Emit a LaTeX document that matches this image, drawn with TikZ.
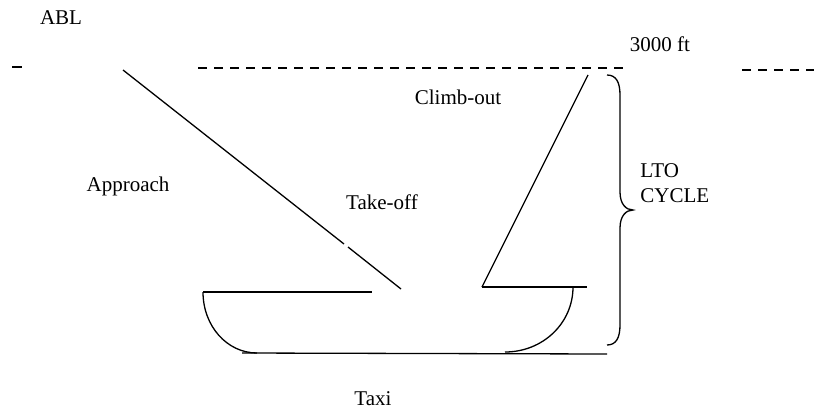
\documentclass[tikz,border=0pt]{standalone}
\usepackage{fontspec}
\setmainfont{Liberation Serif}
\tikzset{lb/.append style={inner sep=0pt, font=\fontsize{10.5}{12.5}\selectfont}}
\tikzset{ln/.append style={line width=0.65pt}}
\tikzset{dd/.append style={line width=1.2pt, dash pattern=on 4.5pt off 3.5pt}}

\begin{document}
\begin{tikzpicture}[x=0.5pt,y=-0.5pt]
                \useasboundingbox (0,0) rectangle (814,413);
                % labels
                \node[lb] (abl) at (61,18) {ABL};
                \node[lb] (ft) at (660,44) {3000 ft};
                \node[lb] (climb) at (458,97) {Climb-out};
                \node[lb] (appr) at (128,186) {Approach};
                \node[lb] (take) at (382,202) {Take-off};
                \node[lb,anchor=west,align=left] (lto) at (640,183) {LTO\\CYCLE};
                \node[lb] (taxi) at (373,399) {Taxi};
                % ABL top
                \coordinate (d1) at (12,67);
                \coordinate (d2) at (22,67);
                \coordinate (d3) at (198,68);
                \coordinate (d4) at (628,68);
                \coordinate (d5) at (742,70);
                \coordinate (d6) at (814,70);
                \draw[ln,line width=1.2pt] (d1) -- (d2);
                \draw[dd] (d3) -- (d4);
                \draw[dd] (d5) -- (d6);
                % approach
                \coordinate (a1) at (123,70);
                \coordinate (a2) at (344,244);
                \coordinate (a3) at (348,247);
                \coordinate (a4) at (401,289);
                \draw[ln] (a1) -- (a2);
                \draw[ln] (a3) -- (a4);
                % climb-out
                \coordinate (c1) at (482,287);
                \coordinate (c2) at (588,75);
                \draw[ln] (c1) -- (c2);
                % runway and taxi
                \coordinate (l1) at (203,292);
                \coordinate (l2) at (372,292);
                \coordinate (l3) at (257,353);
                \coordinate (r1) at (482,287);
                \coordinate (r2) at (587,287);
                \coordinate (r3) at (573,287);
                \coordinate (r4) at (505,352);
                \coordinate (t1) at (242,353);
                \coordinate (t2) at (607,354);
                \draw[ln] (l1) -- (l2);
                \draw[ln] (l1) .. controls (203,326) and (227,353) .. (l3);
                \draw[ln] (t1) -- (t2);
                \draw[ln] (r4) .. controls (543,352) and (573,323) .. (r3);
                \draw[ln] (r1) -- (r2);
                % brace
                \coordinate (b1) at (607,75);
                \coordinate (b2) at (633,210);
                \coordinate (b3) at (607,345);
                \draw[ln] (b1) .. controls (616,75) and (620,82) .. (620,95)
                    -- (620,192) .. controls (620,204) and (626,210) .. (b2)
                    .. controls (626,210) and (620,216) .. (620,228)
                    -- (620,325) .. controls (620,338) and (616,345) .. (b3);
\end{tikzpicture}
\end{document}
